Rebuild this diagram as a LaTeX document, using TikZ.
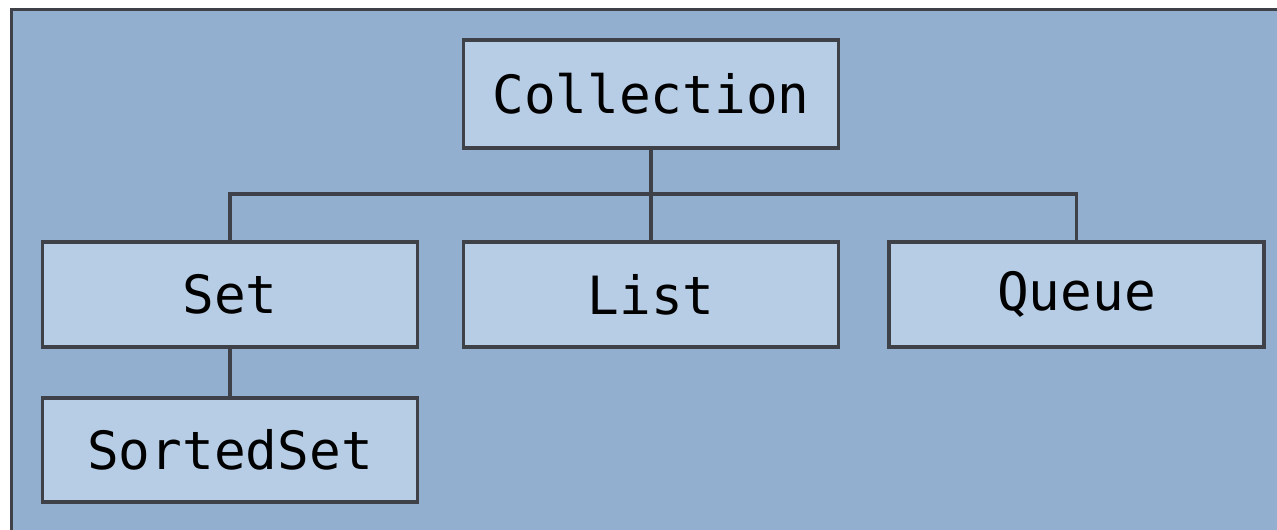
\documentclass[tikz,border=0pt]{standalone}
\usepackage{fontspec}
\newfontfamily\codefont{DejaVu Sans Mono}
\usepackage{tikz}
\pgfdeclarelayer{background}
\pgfdeclarelayer{foreground}
\pgfsetlayers{background,main,foreground}
\definecolor{panelblue}{HTML}{93AFD0}
\definecolor{boxblue}{HTML}{B7CDE5}
\definecolor{edgegray}{HTML}{3E4248}
\tikzset{
  classbox/.style={draw=edgegray, fill=boxblue, line width=2.2pt, inner sep=0pt,
    minimum width=7.5cm, minimum height=2.1cm, font=\codefont\fontsize{30}{34}\selectfont},
  link/.style={draw=edgegray, line width=2.2pt}
}

\begin{document}
\begin{tikzpicture}[x=0.02cm,y=-0.02cm]
\useasboundingbox (0,0) rectangle (1277,529);
\begin{pgfonlayer}{background}
\draw[draw=edgegray, fill=panelblue, line width=2.2pt] (11.5,9.5) rectangle (1300,560);
\end{pgfonlayer}
\node[classbox, minimum height=2.16cm] (coll) at (651,94) {Collection};
\node[classbox] (set) at (230,294.5) {Set};
\node[classbox] (list) at (651,294.5) {List};
\node[classbox] (queue) at (1076.5,294.5) {Queue};
\node[classbox, minimum height=2.08cm] (sorted) at (230,450) {SortedSet};
\coordinate (bus) at (651,194);
\draw[link] (coll.south) -- (list.north);
\draw[link] (set.north) |- (bus) -| (queue.north);
\draw[link] (set.south) -- (sorted.north);
\end{tikzpicture}
\end{document}
